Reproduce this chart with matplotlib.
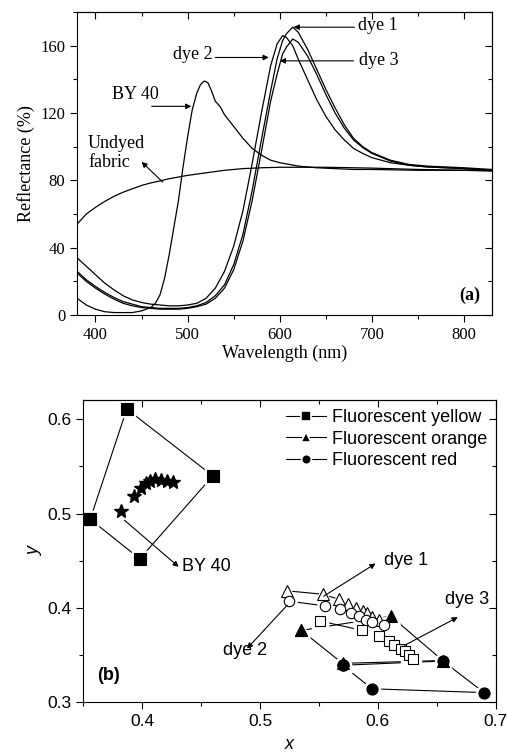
import numpy as np
import matplotlib
matplotlib.use('Agg')
import matplotlib.pyplot as plt
from matplotlib.lines import Line2D
from matplotlib.ticker import MultipleLocator

# ---- (a) reflectance curves ----
wl_undyed = [380, 390, 400, 410, 420, 430, 440, 450, 460, 470, 480, 490, 500, 520, 540, 560, 580, 600,
             650, 700, 750, 800, 830]
r_undyed = [54, 60, 64, 67.5, 70.5, 73, 75, 77, 78.5, 79.7, 81, 82, 83, 84.5, 86, 87, 87.5, 87.8,
            87.8, 87.3, 86.5, 86, 85.5]

wl_by40 = [380, 390, 400, 410, 420, 430, 440, 450, 460, 465, 470, 475, 480, 485, 490, 495, 500, 505,
           510, 514, 518, 522, 526, 530, 535, 540, 550, 560, 570, 580, 590, 600, 620, 640, 660, 680,
           700, 750, 800, 830]
r_by40 = [10, 6, 3.5, 2, 1.5, 1.5, 1.5, 2.5, 4.5, 7, 12, 22, 36, 52, 68, 88, 106, 122,
          132, 137, 139, 138, 133, 127, 124, 119, 112, 105, 99, 95, 92, 90.5, 88.5, 87.5, 87, 86.5,
          86.5, 86, 86, 86]

wl_dye = [380, 390, 400, 410, 420, 430, 440, 450, 460, 470, 480, 490, 500, 510, 520, 530, 540, 550,
          560, 570, 580, 590, 597, 603, 607, 614, 620, 630, 640, 650, 660, 670, 680, 690, 700, 720,
          740, 760, 800, 830]
r_dye1 = [26, 21, 17, 13.5, 10.5, 8, 6.5, 5, 4.5, 4, 4, 4, 4.5, 5.5, 7.5, 11.5, 18, 30,
          48, 74, 104, 133, 152, 163, 167, 171, 168, 158, 146, 134, 123, 113, 105, 100, 96.5, 92,
          89.5, 88.5, 87.5, 86.5]
r_dye2 = [34, 29, 24, 19, 15, 11.5, 9, 7.5, 6.5, 6, 5.5, 5.5, 6, 7, 10, 16, 26, 41,
          62, 90, 120, 148, 161, 166, 165, 160, 152, 140, 128, 118, 110, 104, 99, 96, 93.5, 90.5,
          89, 88, 87, 86]
r_dye3 = [25, 20, 16, 12.5, 9.5, 7, 5.5, 4.5, 4, 3.5, 3.5, 3.5, 4, 5, 6.5, 10, 16, 27,
          44, 68, 97, 127, 143, 155, 159, 164, 162, 154, 143, 131, 120, 111, 104, 99.5, 96, 91.5,
          89, 88, 87, 86]

# ---- (b) chromaticity ----
yel_x = [0.356, 0.387, 0.460, 0.398, 0.356]
yel_y = [0.494, 0.611, 0.540, 0.452, 0.494]
ora_x = [0.535, 0.611, 0.655, 0.570, 0.535]
ora_y = [0.376, 0.391, 0.344, 0.341, 0.376]
red_x = [0.570, 0.595, 0.690, 0.655, 0.570]
red_y = [0.339, 0.314, 0.310, 0.3435, 0.339]
by40_x = [0.382, 0.393, 0.399, 0.403, 0.407, 0.411, 0.416, 0.421, 0.426]
by40_y = [0.503, 0.519, 0.527, 0.532, 0.535, 0.537, 0.536, 0.535, 0.534]
d1_x = [0.523, 0.553, 0.567, 0.575, 0.581, 0.587, 0.591, 0.595, 0.601]
d1_y = [0.418, 0.4144, 0.409, 0.4045, 0.400, 0.397, 0.394, 0.390, 0.3875]
d2_x = [0.5246, 0.555, 0.568, 0.577, 0.584, 0.590, 0.595, 0.605]
d2_y = [0.407, 0.402, 0.399, 0.3946, 0.391, 0.3875, 0.385, 0.3815]
d3_x = [0.551, 0.5864, 0.6006, 0.609, 0.614, 0.6195, 0.623, 0.6266, 0.630]
d3_y = [0.386, 0.376, 0.370, 0.3645, 0.361, 0.3567, 0.354, 0.350, 0.346]

fig = plt.figure(figsize=(5.07, 7.52), dpi=100)

serif = 'Liberation Serif'
sans = 'Liberation Sans'
arrow = dict(arrowstyle='-|>', color='black', lw=0.8, mutation_scale=8, shrinkA=0, shrinkB=0)


def mirror_ticks(ax, xmaj, xmin, ymaj, ymin):
    # Origin-like inward ticks on the top and right spines
    top = ax.secondary_xaxis('top')
    right = ax.secondary_yaxis('right')
    top.xaxis.set_major_locator(MultipleLocator(xmaj))
    top.xaxis.set_minor_locator(MultipleLocator(xmin))
    right.yaxis.set_major_locator(MultipleLocator(ymaj))
    right.yaxis.set_minor_locator(MultipleLocator(ymin))
    for sec in (top, right):
        sec.tick_params(which='both', direction='in', labeltop=False, labelright=False, width=0.8)
        sec.tick_params(which='major', length=5)
        sec.tick_params(which='minor', length=3)


# panel (a)
ax1 = fig.add_axes([0.152, 0.581, 0.818, 0.403])
for w, r in [(wl_undyed, r_undyed), (wl_by40, r_by40), (wl_dye, r_dye1), (wl_dye, r_dye2), (wl_dye, r_dye3)]:
    ax1.plot(w, r, color='black', lw=0.9)
ax1.set_xlim(380, 830)
ax1.set_ylim(0, 180)
ax1.xaxis.set_major_locator(MultipleLocator(100))
ax1.xaxis.set_minor_locator(MultipleLocator(50))
ax1.yaxis.set_major_locator(MultipleLocator(40))
ax1.yaxis.set_minor_locator(MultipleLocator(20))
ax1.tick_params(which='both', direction='out', labelsize=12, width=0.8)
ax1.tick_params(which='major', length=5)
ax1.tick_params(which='minor', length=3)
for lab in ax1.get_xticklabels() + ax1.get_yticklabels():
    lab.set_fontfamily(serif)
ax1.set_xlabel('Wavelength (nm)', fontfamily=serif, fontsize=13, labelpad=1)
ax1.set_ylabel('Reflectance (%)', fontfamily=serif, fontsize=13, labelpad=4)
mirror_ticks(ax1, 100, 50, 40, 20)

ax1.annotate('', xy=(615, 171), xytext=(681, 171), arrowprops=arrow)
ax1.text(685, 172, 'dye 1', fontfamily=serif, fontsize=13, va='center')
ax1.annotate('', xy=(588, 153), xytext=(530, 153), arrowprops=arrow)
ax1.text(527, 155, 'dye 2', fontfamily=serif, fontsize=13, va='center', ha='right')
ax1.annotate('', xy=(600, 151), xytext=(680, 151), arrowprops=arrow)
ax1.text(686, 151.5, 'dye 3', fontfamily=serif, fontsize=13, va='center')
ax1.annotate('', xy=(504, 124), xytext=(461, 124), arrowprops=arrow)
ax1.text(418, 131, 'BY 40', fontfamily=serif, fontsize=13, va='center')
ax1.annotate('', xy=(450, 91), xytext=(473, 79), arrowprops=arrow)
ax1.text(392, 96, 'Undyed\nfabric', fontfamily=serif, fontsize=13, va='center', linespacing=1.15)
ax1.text(818, 12, '(a)', fontfamily=serif, fontsize=13, fontweight='bold', ha='right', va='center')

# panel (b)
ax2 = fig.add_axes([0.164, 0.0665, 0.814, 0.4015])
series = [(yel_x, yel_y, 's', 8, 'black'), (ora_x, ora_y, '^', 9, 'black'),
          (red_x, red_y, 'o', 8, 'black'), (d1_x, d1_y, '^', 8, 'white'),
          (d2_x, d2_y, 'o', 7.5, 'white'), (d3_x, d3_y, 's', 7.5, 'white')]
for x, y, m, ms, fc in series:
    ax2.plot(x, y, color='black', lw=0.8)
# white halos give the small gaps between lines and symbols
for x, y, m, ms, fc in series:
    ax2.plot(x, y, ls='none', marker=m, ms=ms + 3.5, mfc='white', mec='white')
for x, y, m, ms, fc in series:
    ax2.plot(x, y, ls='none', marker=m, ms=ms, mfc=fc, mec='black', mew=0.8)
ax2.plot(by40_x, by40_y, ls='none', marker='*', ms=10, mfc='black', mec='black')
ax2.set_xlim(0.35, 0.7)
ax2.set_ylim(0.3, 0.6205)
ax2.xaxis.set_major_locator(MultipleLocator(0.1))
ax2.xaxis.set_minor_locator(MultipleLocator(0.05))
ax2.yaxis.set_major_locator(MultipleLocator(0.1))
ax2.yaxis.set_minor_locator(MultipleLocator(0.05))
ax2.tick_params(which='both', direction='out', labelsize=12.5, width=0.8)
ax2.tick_params(which='major', length=5)
ax2.tick_params(which='minor', length=3)
for lab in ax2.get_xticklabels() + ax2.get_yticklabels():
    lab.set_fontfamily(sans)
ax2.set_xlabel('x', fontfamily=sans, fontsize=13, fontstyle='italic', labelpad=5)
ax2.set_ylabel('y', fontfamily=sans, fontsize=13, fontstyle='italic', labelpad=3)
mirror_ticks(ax2, 0.1, 0.05, 0.1, 0.05)

ax2.annotate('', xy=(0.431, 0.4435), xytext=(0.385, 0.493), arrowprops=arrow)
ax2.text(0.434, 0.444, 'BY 40', fontfamily=sans, fontsize=13, va='center')
ax2.annotate('', xy=(0.598, 0.447), xytext=(0.554, 0.4123), arrowprops=arrow)
ax2.text(0.605, 0.450, 'dye 1', fontfamily=sans, fontsize=13, va='center')
ax2.annotate('', xy=(0.489, 0.3567), xytext=(0.523, 0.4027), arrowprops=arrow)
ax2.text(0.469, 0.355, 'dye 2', fontfamily=sans, fontsize=13, va='center')
ax2.annotate('', xy=(0.6677, 0.390), xytext=(0.6224, 0.360), arrowprops=arrow)
ax2.text(0.657, 0.409, 'dye 3', fontfamily=sans, fontsize=13, va='center')
ax2.text(0.362, 0.328, '(b)', fontfamily=sans, fontsize=13, fontweight='bold', va='center')

handles = [Line2D([], [], color='black', lw=0.8, marker=m, ms=7, mfc='black', mec='white', mew=1.2)
           for m in ['s', '^', 'o']]
ax2.legend(handles, ['Fluorescent yellow', 'Fluorescent orange', 'Fluorescent red'],
           loc='upper right', frameon=False, prop={'family': sans, 'size': 13},
           handlelength=2.2, handletextpad=0.3, labelspacing=0.25, borderaxespad=0.2,
           borderpad=0.3)

fig.savefig('out.png', dpi=100)
